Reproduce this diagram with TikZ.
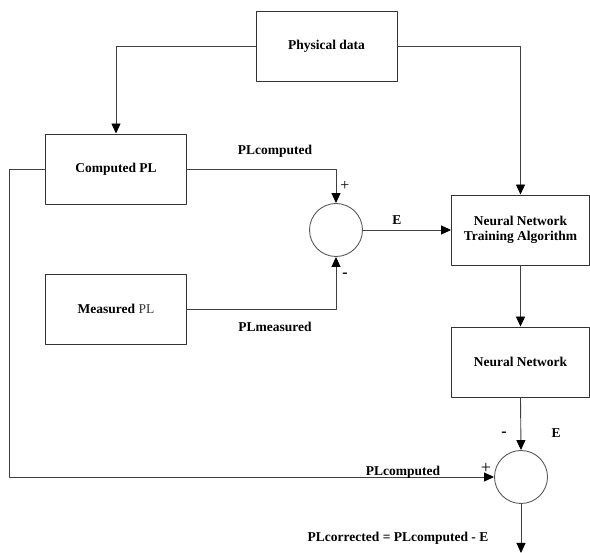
\documentclass[tikz,border=0pt]{standalone}
\usepackage{fontspec}
\setmainfont{Liberation Serif}
\usetikzlibrary{arrows.meta}
\tikzset{
	block/.style={draw=black!80, line width=0.9pt, minimum width=141pt, minimum height=70pt, inner sep=0pt, align=center},
	summer/.style={circle, draw=black!65, line width=0.9pt, minimum size=53pt, inner sep=0pt},
	wire/.style={draw=black!75, line width=0.9pt},
	lbl/.style={inner sep=0pt}
}
\begin{document}
\begin{tikzpicture}[x=1pt, y=-1pt, >={Triangle[length=10pt,width=9pt,fill=black,color=black]}, font=\fontsize{13.5}{15.5}\selectfont\bfseries, line join=round]
	\useasboundingbox (0,0) rectangle (590,553);
	% blocks
	\node[block] (phys) at (326.5,46) {Physical data};
	\node[block] (comp) at (116,169) {Computed PL};
	\node[block] (meas) at (116,309) {Measured {\mdseries\color{black!80}PL}};
	\node[block, minimum width=138pt] (train) at (520.5,230) {Neural Network\\Training Algorithm};
	\node[block, minimum width=138pt] (nn) at (520.5,362) {Neural Network};
	\node[summer] (sumA) at (336,230) {};
	\node[summer] (sumB) at (521,477) {};
	\coordinate (bend) at (9,169);
	\coordinate (out) at (521,553);
	% connectors
	\draw[wire,->] (phys.west) -| (comp.north);
	\draw[wire,->] (phys.east) -| (train.north);
	\draw[wire,->] (comp.east) -| (sumA.north);
	\draw[wire,->] (meas.east) -| (sumA.south);
	\draw[wire,->] (sumA.east) -- (train.west);
	\draw[wire,->] (train.south) -- (nn.north);
	\draw[wire,->] (nn.south) -- (sumB.north);
	\draw[wire,->] (comp.west) -- (bend) |- (sumB.west);
	\draw[wire,->] (sumB.south) -- (out);
	% labels
	\node[lbl] (lcomp) at (275,151) {PLcomputed};
	\node[lbl] (lmeas) at (275,327) {PLmeasured};
	\node[lbl] (le) at (397,220) {E};
	\node[lbl] (pA) at (345,186) {\mdseries\fontsize{16}{18}\selectfont +};
	\node[lbl] (mA) at (345,275) {\fontsize{16}{18}\selectfont -};
	\node[lbl] (mB) at (504,434) {\fontsize{16}{18}\selectfont -};
	\node[lbl] (le2) at (556,433) {E};
	\node[lbl] (lcomp2) at (403,472) {PLcomputed};
	\node[lbl] (pB) at (486,468) {\mdseries\fontsize{18}{20}\selectfont +};
	\node[lbl] (lcorr) at (398,538) {PLcorrected = PLcomputed - E};
\end{tikzpicture}
\end{document}
